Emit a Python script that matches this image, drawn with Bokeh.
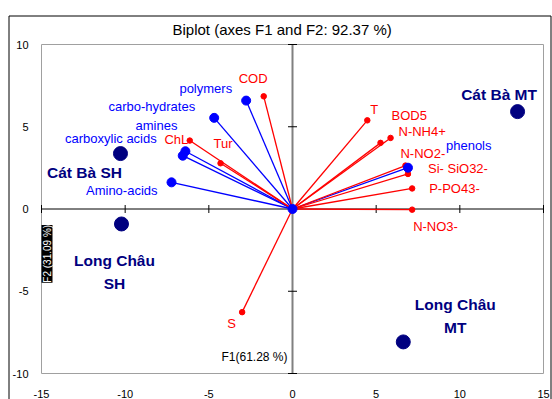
import math
from bokeh.plotting import figure
from bokeh.models import ColumnDataSource, Range1d, Label
from bokeh.core.properties import value
from bokeh.embed import file_html
from bokeh.resources import INLINE

# ---------------- data ----------------
title_text = "Biplot (axes F1 and F2: 92.37 %)"
x_label = "F1(61.28 %)"
y_label = "F2 (31.09 %)"
x_ticks = [-15, -10, -5, 0, 5, 10, 15]
y_ticks = [-10, -5, 0, 5, 10]

sample_names = ["Cát Bà MT", "Cát Bà SH", "Long Châu\nSH", "Long Châu\nMT"]
sample_f1 = [13.45, -10.28, -10.22, 6.62]
sample_f2 = [5.92, 3.37, -0.91, -8.08]

blue_names = ["polymers", "carbo-hydrates", "amines", "carboxylic acids", "Amino-acids", "phenols"]
blue_f1 = [-2.77, -4.68, -6.40, -6.56, -7.23, 6.90]
blue_f2 = [6.59, 5.54, 3.51, 3.24, 1.62, 2.51]

red_names = ["COD", "ChL", "Tur", "T", "BOD5", "N-NH4+", "N-NO2-", "Si- SiO32-", "P-PO43-", "N-NO3-", "S"]
red_f1 = [-1.72, -6.14, -4.30, 4.47, 5.86, 5.26, 6.75, 6.90, 7.15, 7.15, -3.01]
red_f2 = [6.85, 4.16, 2.78, 5.39, 4.32, 4.02, 2.64, 2.13, 1.25, -0.04, -6.27]

# label placement (screen px: dx right, dy up) and alignment
sample_dx = [-18.5, -36, -7, 52]
sample_dy = [17, -19, -48.5, 26]
blue_align = ["right", "right", "right", "right", "right", "left"]
blue_dx = [-14, -19, -8, -26, -14, 38]
blue_dy = [12, 11, 26, 17, -8, 22]
red_align = ["left", "right", "left", "left", "left", "left", "left", "left", "left", "left", "left"]
red_dx = [-25, -1.5, -7, 3, 1, 18, -5, 20, 17, 1, -15]
red_dy = [18, 1, 20, 11, 22, 11, 12, 5, 0, -17, -11]

FONT = "Liberation Sans"
NAVY = "#000080"
BLUE = "#0000FF"
RED = "#FF0000"

# ---------------- layout (pixels) ----------------
W, H = 552, 399
PL, PR, PT, PB = 41, 543, 44, 373          # plot-area edges on the page
XMIN, XMAX = x_ticks[0], x_ticks[-1]
YMIN, YMAX = y_ticks[0], y_ticks[-1]
ux = (XMAX - XMIN) / (PR - PL)
uy = (YMAX - YMIN) / (PB - PT)
x_start, x_end = XMIN - PL * ux, XMAX + (W - PR) * ux
y_end, y_start = YMAX + PT * uy, YMIN - (H - PB) * uy


def px_x(px):
    return x_start + px * ux


def px_y(py):
    return y_end - py * uy


p = figure(width=W, height=H, output_backend="svg", toolbar_location=None, tools="",
           x_axis_type=None, y_axis_type=None,
           min_border_left=0, min_border_right=0, min_border_top=0, min_border_bottom=0)
p.x_range = Range1d(x_start, x_end)
p.y_range = Range1d(y_start, y_end)
p.outline_line_color = None
p.xgrid.visible = False
p.ygrid.visible = False

# outer chart border (top, left, right)
bl, br, bt = px_x(8.5), px_x(550.5), px_y(15.5)
p.segment(x0=[bl, br, bl], y0=[bt, bt, bt], x1=[bl, br, br], y1=[y_start, y_start, bt],
          line_color="black", line_width=1)

# plot-area frame
p.segment(x0=[XMIN, XMAX, XMIN, XMIN], y0=[YMIN, YMIN, YMAX, YMIN],
          x1=[XMIN, XMAX, XMAX, XMAX], y1=[YMAX, YMAX, YMAX, YMIN],
          line_color="#A0A0A0", line_width=1)

# title
p.text(x=[XMIN], y=[YMAX], text=[title_text], x_offset=131, y_offset=-15,
       text_align="left", text_baseline="middle", text_color="black",
       text_font=value(FONT), text_font_size="15px")

# tick labels (outside the plot area)
p.text(x=x_ticks, y=[YMIN] * len(x_ticks), text=[str(t) for t in x_ticks], y_offset=20,
       text_align="center", text_baseline="middle", text_color="black",
       text_font=value(FONT), text_font_size="11px")
p.text(x=[XMIN] * len(y_ticks), y=y_ticks, text=[str(t) for t in y_ticks], x_offset=-13,
       text_align="right", text_baseline="middle", text_color="black",
       text_font=value(FONT), text_font_size="11px")

# inner axes through the origin
p.segment(x0=[0], y0=[YMIN], x1=[0], y1=[YMAX], line_color="#808080", line_width=2)
p.segment(x0=[XMIN], y0=[0], x1=[XMAX], y1=[0], line_color="black", line_width=1)
p.scatter(x=[t for t in x_ticks if t != 0], y=[0] * (len(x_ticks) - 1), marker="dash",
          angle=math.pi / 2, size=8, line_color="black", line_width=1)
p.scatter(x=[0] * (len(y_ticks) - 1), y=[t for t in y_ticks if t != 0], marker="dash",
          size=9, line_color="black", line_width=1)

# vectors (screen y offsets point downward in Bokeh, so negate "up" offsets)
red_src = ColumnDataSource(dict(x=red_f1, y=red_f2, name=red_names, dx=red_dx,
                                dy=[-d for d in red_dy], al=red_align))
blue_src = ColumnDataSource(dict(x=blue_f1, y=blue_f2, name=blue_names, dx=blue_dx,
                                 dy=[-d for d in blue_dy], al=blue_align))
samp_src = ColumnDataSource(dict(x=sample_f1, y=sample_f2, name=sample_names, dx=sample_dx,
                                 dy=[-d for d in sample_dy]))

p.segment(x0=0, y0=0, x1="x", y1="y", source=blue_src, line_color=BLUE, line_width=1.3)
p.segment(x0=0, y0=0, x1="x", y1="y", source=red_src, line_color=RED, line_width=1.3)
p.scatter(x="x", y="y", source=red_src, size=5.5, color=RED)
p.scatter(x="x", y="y", source=blue_src, size=9, color=BLUE)
p.scatter(x=[0], y=[0], size=9, color=BLUE)
p.scatter(x="x", y="y", source=samp_src, size=14, color=NAVY)

p.text(x="x", y="y", text="name", source=red_src, x_offset="dx", y_offset="dy",
       text_align="al", text_baseline="middle", text_color=RED,
       text_font=value(FONT), text_font_size="13px")
p.text(x="x", y="y", text="name", source=blue_src, x_offset="dx", y_offset="dy",
       text_align="al", text_baseline="middle", text_color=BLUE,
       text_font=value(FONT), text_font_size="13px")
p.text(x="x", y="y", text="name", source=samp_src, x_offset="dx", y_offset="dy",
       text_align="center", text_baseline="middle", text_color=NAVY,
       text_font=value(FONT), text_font_size="15.5px", text_font_style="bold",
       text_line_height=1.35)

p.add_layout(Label(x=0, y=-8.98, text=x_label, text_align="right", text_baseline="middle",
                   x_offset=-5, text_font=FONT, text_font_size="12px", text_color="black"))
p.add_layout(Label(x=XMIN, y=-4.48, text=y_label, angle=math.pi / 2, text_align="left",
                   text_baseline="top", x_offset=0, text_font=FONT, text_font_size="10px",
                   text_color="white", background_fill_color="black"))

open("out.html", "w").write(file_html(p, INLINE))
